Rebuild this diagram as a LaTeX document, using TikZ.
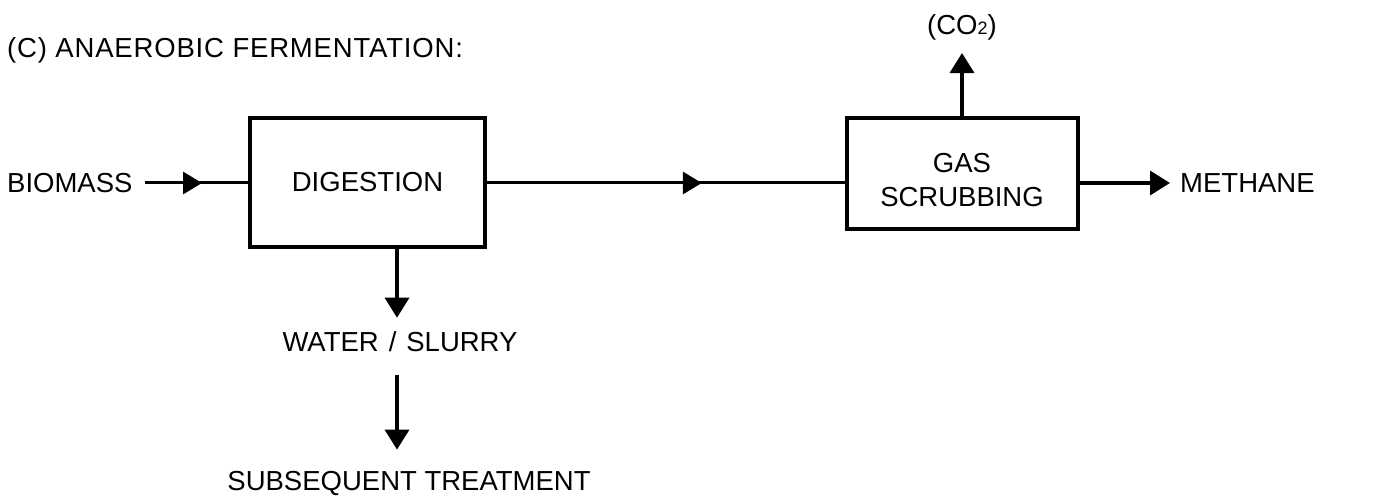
\documentclass[tikz,border=0pt]{standalone}
\usepackage{fontspec}
\setmainfont{Liberation Sans}
\usetikzlibrary{arrows.meta}
\usetikzlibrary{decorations.markings}

\tikzset{
	txt/.style={inner sep=0pt, font=\fontsize{27.5}{34}\selectfont},
	unit/.style={draw, line width=3.5pt, inner sep=0pt},
	flow/.style={line width=3.5pt, -{Triangle[length=20pt,width=24pt]}},
	pipe/.style={line width=3pt},
	midarrow/.style={postaction={decorate}, decoration={markings,
		mark=at position #1 with {\arrow{Triangle[length=19pt,width=22pt]}}}}
}

\begin{document}
\begin{tikzpicture}[x=1pt,y=-1pt]
		\useasboundingbox (0,0) rectangle (1390,497);
		\node[txt, anchor=west] (title) at (7,50) {\addfontfeature{LetterSpace=3}(C) ANAEROBIC FERMENTATION:};
		% units
		\node[unit, minimum width=235pt, minimum height=129pt] (dig) at (367.5,182.5) {};
		\node[txt] (digtxt) at (dig) {DIGESTION};
		\node[unit, minimum width=231pt, minimum height=111pt] (gas) at (962.5,173.5) {};
		\node[txt, align=center] (gastxt) at (962,180) {GAS\\SCRUBBING};
		% streams
		\node[txt, anchor=west] (bio) at (7,183) {BIOMASS};
		\node[txt, anchor=west] (meth) at (1180,183) {METHANE};
		\node[txt] (co2) at (962,27) {(CO{\fontsize{18}{18}\selectfont 2})};
		\node[txt] (water) at (400,342) {WATER\hspace{10pt}/\hspace{10pt}SLURRY};
		\node[txt] (subs) at (409,483) {SUBSEQUENT TREATMENT};
		\draw[pipe, midarrow=0.6, shorten <=12pt] (bio.east) -- (dig.west |- bio.east);
		\draw[pipe, midarrow=0.6] (dig.east |- bio.east) -- (gas.west |- bio.east);
		\draw[flow, shorten >=10pt] (gas.east |- meth.west) -- (meth.west);
		\draw[flow, shorten >=13pt] (gas.north -| co2.south) -- (co2.south);
		\draw[flow, shorten >=14pt] (dig.south -| 397,0) -- (water.north -| 397,0);
		\draw[flow, shorten <=23pt, shorten >=21pt] (water.south -| 397,0) -- (subs.north -| 397,0);
	\end{tikzpicture}
\end{document}
